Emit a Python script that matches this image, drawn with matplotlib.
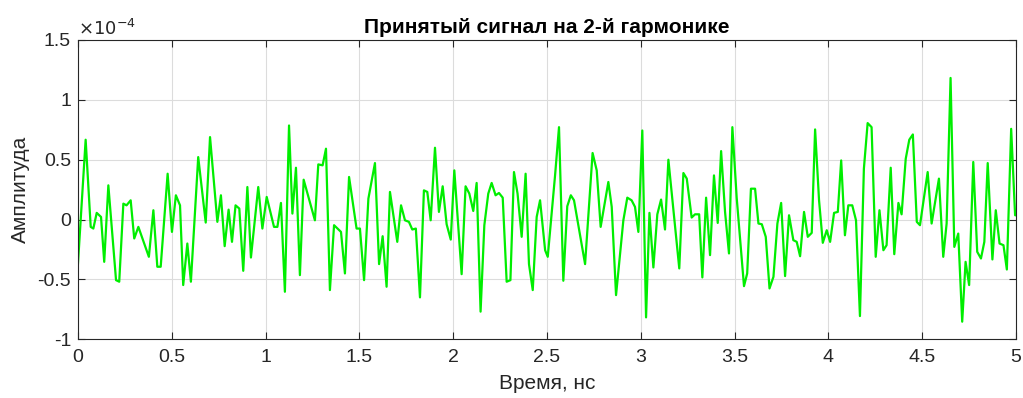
import numpy as np
import matplotlib.pyplot as plt
from matplotlib.ticker import FuncFormatter

plt.rcParams['font.family'] = ['Liberation Sans', 'DejaVu Sans']
plt.rcParams['axes.unicode_minus'] = False

# time, ns (vertices)
t = [0.0, 0.041, 0.068, 0.082, 0.100, 0.123, 0.140, 0.162, 0.203, 0.220,
     0.242, 0.259, 0.281, 0.300, 0.322, 0.378, 0.402, 0.423, 0.441, 0.478,
     0.501, 0.522, 0.544, 0.561, 0.583, 0.602, 0.641, 0.681, 0.704, 0.743,
     0.762, 0.782, 0.803, 0.821, 0.840, 0.860, 0.881, 0.903, 0.922, 0.961,
     0.983, 1.006, 1.045, 1.063, 1.082, 1.103, 1.125, 1.143, 1.162, 1.183,
     1.203, 1.263, 1.281, 1.304, 1.322, 1.343, 1.365, 1.402, 1.423, 1.445,
     1.485, 1.503, 1.525, 1.548, 1.583, 1.605, 1.624, 1.645, 1.663, 1.702,
     1.722, 1.743, 1.764, 1.782, 1.801, 1.823, 1.844, 1.862, 1.880, 1.903,
     1.924, 1.944, 1.965, 1.987, 2.006, 2.045, 2.066, 2.086, 2.107, 2.125,
     2.146, 2.166, 2.187, 2.205, 2.226, 2.244, 2.264, 2.285, 2.305, 2.324,
     2.343, 2.365, 2.386, 2.404, 2.424, 2.445, 2.463, 2.490, 2.504, 2.543,
     2.564, 2.587, 2.608, 2.627, 2.644, 2.703, 2.743, 2.765, 2.786, 2.827,
     2.845, 2.868, 2.907, 2.928, 2.951, 2.969, 2.987, 3.008, 3.028, 3.046,
     3.067, 3.088, 3.108, 3.129, 3.147, 3.205, 3.227, 3.245, 3.271, 3.289,
     3.311, 3.328, 3.348, 3.369, 3.390, 3.410, 3.428, 3.449, 3.470, 3.488,
     3.511, 3.550, 3.567, 3.587, 3.609, 3.627, 3.645, 3.666, 3.686, 3.707,
     3.728, 3.748, 3.769, 3.790, 3.813, 3.831, 3.849, 3.870, 3.890, 3.911,
     3.929, 3.950, 3.970, 3.991, 4.009, 4.030, 4.050, 4.068, 4.088, 4.106,
     4.127, 4.147, 4.168, 4.189, 4.209, 4.230, 4.252, 4.272, 4.293, 4.310,
     4.332, 4.351, 4.373, 4.390, 4.412, 4.431, 4.450, 4.471, 4.488, 4.529,
     4.550, 4.589, 4.612, 4.630, 4.651, 4.671, 4.692, 4.713, 4.731, 4.750,
     4.772, 4.793, 4.813, 4.831, 4.849, 4.874, 4.892, 4.912, 4.933, 4.951,
     4.974, 4.995, 5.0]

# amplitude, x1e-4
amp = [-0.37, 0.667, -0.061, -0.075, 0.056, 0.022, -0.353, 0.286, -0.506, -0.519,
       0.133, 0.119, 0.161, -0.158, -0.061, -0.311, 0.078, -0.394, -0.394, 0.383,
       -0.103, 0.203, 0.119, -0.547, -0.2, -0.519, 0.522, -0.025, 0.689, -0.019,
       0.203, -0.222, 0.083, -0.186, 0.119, 0.092, -0.428, 0.272, -0.317, 0.272,
       -0.075, 0.189, -0.061, -0.061, 0.139, -0.603, 0.786, 0.05, 0.433, -0.464,
       0.333, -0.006, 0.461, 0.453, 0.592, -0.589, -0.047, -0.103, -0.45, 0.356,
       -0.075, -0.075, -0.506, 0.175, 0.472, -0.372, -0.139, -0.561, 0.231, -0.186,
       0.119, -0.006, -0.019, -0.083, -0.075, -0.65, 0.244, 0.231, -0.006, 0.6,
       0.064, 0.278, -0.039, -0.167, 0.411, -0.456, 0.278, 0.217, 0.072, 0.306,
       -0.769, -0.047, 0.217, 0.306, 0.203, 0.222, 0.183, -0.519, -0.506, 0.397,
       0.217, -0.144, 0.383, -0.372, -0.589, 0.022, 0.161, -0.256, -0.311, 0.369,
       0.772, -0.511, 0.111, 0.203, 0.161, -0.372, 0.556, 0.411, -0.061, 0.314,
       0.106, -0.631, -0.006, 0.183, 0.161, 0.106, -0.103, 0.744, -0.817, 0.056,
       -0.4, 0.044, 0.167, -0.083, 0.5, -0.408, 0.389, 0.342, 0.017, 0.044,
       0.044, -0.483, 0.183, -0.297, 0.369, -0.028, 0.572, 0.064, -0.283, 0.772,
       0.183, -0.556, -0.45, 0.258, 0.258, -0.033, -0.039, -0.144, -0.575, -0.478,
       -0.033, 0.139, -0.472, 0.036, -0.172, -0.186, -0.306, 0.064, -0.144, -0.111,
       0.753, 0.161, -0.194, -0.089, -0.186, 0.056, 0.064, 0.494, -0.131, 0.119,
       0.119, -0.006, -0.806, 0.425, 0.806, 0.772, -0.311, 0.078, -0.256, -0.214,
       0.433, -0.289, 0.139, 0.044, 0.508, 0.667, 0.711, -0.019, -0.047, 0.397,
       -0.033, 0.342, -0.311, -0.033, 1.183, -0.228, -0.117, -0.853, -0.353, -0.547,
       0.481, -0.269, -0.325, -0.186, 0.472, -0.333, 0.078, -0.2, -0.214, -0.417,
       0.758, 0.036, 0.036]

xticks = [0, 0.5, 1, 1.5, 2, 2.5, 3, 3.5, 4, 4.5, 5]
yticks = [-1, -0.5, 0, 0.5, 1, 1.5]

fig = plt.figure(figsize=(10.23, 3.98), dpi=100)
ax = fig.add_axes([0.0762, 0.1475, 0.917, 0.752])

ax.plot(t, amp, color='#00ee00', linewidth=1.6)

ax.set_xlim(0, 5)
ax.set_ylim(-1, 1.5)
ax.set_xticks(xticks)
ax.set_yticks(yticks)
fmt = FuncFormatter(lambda v, p: '%g' % v)
ax.xaxis.set_major_formatter(fmt)
ax.yaxis.set_major_formatter(fmt)

ax.grid(True, color='#dcdcdc', linewidth=0.8)
ax.set_axisbelow(True)
for s in ax.spines.values():
    s.set_color('#262626')
    s.set_linewidth(0.8)
ax.tick_params(direction='in', top=True, right=True, labelsize=14,
               colors='#262626', length=5)
ax.tick_params(axis='x', pad=7)
ax.tick_params(axis='y', pad=5)

ax.set_xlabel('Время, нс', fontsize=15, color='#262626', labelpad=6)
ax.set_ylabel('Амплитуда', fontsize=15, color='#262626', labelpad=5)
ax.set_title('Принятый сигнал на 2-й гармонике', fontsize=15,
             fontweight='bold', color='#000000', pad=5)
ax.text(0.0, 1.003, r'$\times10^{-4}$', transform=ax.transAxes,
        fontsize=13, color='#262626', ha='left', va='bottom')

fig.savefig('out.png', dpi=100)
